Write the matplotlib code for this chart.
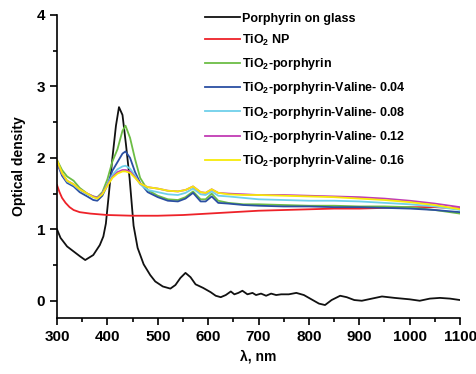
import numpy as np
import matplotlib
matplotlib.use("Agg")
import matplotlib.pyplot as plt
from matplotlib.ticker import MultipleLocator

plt.rcParams['font.family'] = ['Liberation Sans', 'DejaVu Sans']
plt.rcParams['font.weight'] = 'bold'
plt.rcParams['mathtext.fontset'] = 'custom'
plt.rcParams['mathtext.rm'] = 'Liberation Sans:bold'
plt.rcParams['mathtext.bf'] = 'Liberation Sans:bold'
plt.rcParams['mathtext.default'] = 'bf'

# porphyrin on glass
wl_glass = [300, 307, 320, 333, 346, 356, 372, 385, 392, 397, 403, 410, 417, 423, 430, 437,
            444, 452, 460, 472, 485, 495, 510, 525, 535, 545, 555, 565, 575, 590, 605, 615,
            625, 635, 645, 652, 660, 668, 678, 688, 695, 705, 715, 725, 735, 745, 760, 775,
            790, 805, 820, 832, 845, 862, 875, 890, 905, 925, 945, 970, 1000, 1020, 1040,
            1060, 1080, 1100]
od_glass = [1.00, 0.88, 0.76, 0.69, 0.62, 0.57, 0.64, 0.78, 0.90, 1.08, 1.50, 2.00, 2.45, 2.71,
            2.60, 2.18, 1.72, 1.05, 0.74, 0.51, 0.36, 0.27, 0.20, 0.17, 0.22, 0.32, 0.39, 0.33,
            0.23, 0.18, 0.12, 0.07, 0.05, 0.08, 0.13, 0.09, 0.11, 0.14, 0.09, 0.11, 0.08, 0.10,
            0.07, 0.10, 0.08, 0.09, 0.09, 0.11, 0.08, 0.02, -0.04, -0.06, 0.01, 0.07, 0.05,
            0.01, 0.00, 0.03, 0.06, 0.04, 0.02, 0.00, 0.03, 0.04, 0.03, 0.01]

# TiO2 NP
wl_np = [300, 305, 310, 317, 325, 333, 345, 366, 400, 450, 500, 550, 600, 650, 700, 750,
         800, 850, 900, 950, 1000, 1050, 1100]
od_np = [1.62, 1.52, 1.44, 1.37, 1.31, 1.27, 1.24, 1.22, 1.20, 1.19, 1.19, 1.20, 1.22, 1.24,
         1.26, 1.27, 1.28, 1.29, 1.29, 1.30, 1.31, 1.31, 1.29]

# TiO2-porphyrin series share one wavelength grid
wl = [300, 310, 320, 333, 345, 360, 372, 380, 390, 400, 410, 420, 430, 436, 445, 455, 465,
      480, 500, 520, 540, 555, 570, 585, 595, 607, 620, 640, 670, 700, 750, 800, 850, 900,
      950, 1000, 1050, 1100]
od_por = [1.97, 1.83, 1.74, 1.68, 1.58, 1.50, 1.46, 1.45, 1.52, 1.70, 1.95, 2.12, 2.38, 2.45,
          2.28, 1.98, 1.72, 1.55, 1.47, 1.42, 1.41, 1.45, 1.53, 1.42, 1.42, 1.50, 1.40, 1.37,
          1.35, 1.35, 1.34, 1.33, 1.33, 1.32, 1.32, 1.31, 1.27, 1.22]
od_v04 = [1.93, 1.75, 1.65, 1.60, 1.52, 1.46, 1.41, 1.40, 1.47, 1.62, 1.82, 1.94, 2.06, 2.09,
          2.00, 1.80, 1.65, 1.52, 1.45, 1.40, 1.39, 1.43, 1.51, 1.39, 1.39, 1.46, 1.37, 1.36,
          1.34, 1.33, 1.32, 1.32, 1.31, 1.31, 1.30, 1.29, 1.27, 1.24]
od_v08 = [1.95, 1.78, 1.67, 1.62, 1.55, 1.49, 1.45, 1.44, 1.50, 1.63, 1.76, 1.84, 1.88, 1.89,
          1.85, 1.75, 1.63, 1.55, 1.52, 1.49, 1.48, 1.51, 1.57, 1.49, 1.48, 1.53, 1.47, 1.46,
          1.44, 1.42, 1.41, 1.40, 1.40, 1.39, 1.37, 1.35, 1.32, 1.27]
od_v12 = [1.96, 1.78, 1.68, 1.63, 1.56, 1.50, 1.46, 1.44, 1.50, 1.62, 1.73, 1.80, 1.83, 1.83,
          1.81, 1.73, 1.64, 1.59, 1.57, 1.54, 1.53, 1.55, 1.60, 1.52, 1.51, 1.56, 1.51, 1.50,
          1.49, 1.48, 1.48, 1.47, 1.46, 1.45, 1.43, 1.40, 1.36, 1.31]
od_v16 = [1.97, 1.79, 1.68, 1.63, 1.56, 1.50, 1.45, 1.43, 1.49, 1.61, 1.72, 1.78, 1.81, 1.81,
          1.79, 1.72, 1.64, 1.59, 1.57, 1.54, 1.53, 1.55, 1.60, 1.52, 1.51, 1.56, 1.51, 1.49,
          1.48, 1.48, 1.47, 1.46, 1.45, 1.43, 1.41, 1.38, 1.34, 1.28]

labels = ['Porphyrin on glass', 'TiO$_2$ NP', 'TiO$_2$-porphyrin',
          'TiO$_2$-porphyrin-Valine- 0.04', 'TiO$_2$-porphyrin-Valine- 0.08',
          'TiO$_2$-porphyrin-Valine- 0.12', 'TiO$_2$-porphyrin-Valine- 0.16']
colors = ['#111111', '#ee2229', '#6cbd45', '#2b4fa2', '#6fd0ea', '#c13cb4', '#f7ea0a']

fig = plt.figure(figsize=(4.77, 3.74), dpi=100)
ax = fig.add_axes([0.1195, 0.150, 0.845, 0.81])

series = [(wl_glass, od_glass), (wl_np, od_np), (wl, od_por), (wl, od_v04),
          (wl, od_v08), (wl, od_v12), (wl, od_v16)]
for (x, y), lab, c in zip(series, labels, colors):
    ax.plot(x, y, color=c, lw=1.3, label=lab)

ax.set_xlim(300, 1100)
ax.set_ylim(-0.24, 4.0)
ax.xaxis.set_major_locator(MultipleLocator(100))
ax.xaxis.set_minor_locator(MultipleLocator(50))
ax.yaxis.set_major_locator(MultipleLocator(1))
ax.yaxis.set_minor_locator(MultipleLocator(0.5))
for s in ['top', 'right']:
    ax.spines[s].set_visible(False)
for s in ['left', 'bottom']:
    ax.spines[s].set_linewidth(1.2)
ax.tick_params(which='major', direction='out', length=5, width=1.2, labelsize=11)
ax.tick_params(which='minor', direction='out', length=3, width=1.2)
for t in ax.get_xticklabels() + ax.get_yticklabels():
    t.set_fontweight('bold')

ax.set_xlabel('λ, nm', fontsize=10, fontweight='bold', labelpad=4)
ax.set_ylabel('Optical density', fontsize=10, fontweight='bold', labelpad=8)

leg = ax.legend(loc='upper left', bbox_to_anchor=(0.34, 1.045), frameon=False,
                fontsize=9, handlelength=2.8, handletextpad=0.15, labelspacing=0.66)
for t in leg.get_texts():
    t.set_fontweight('bold')

fig.savefig('out.png', dpi=100)
